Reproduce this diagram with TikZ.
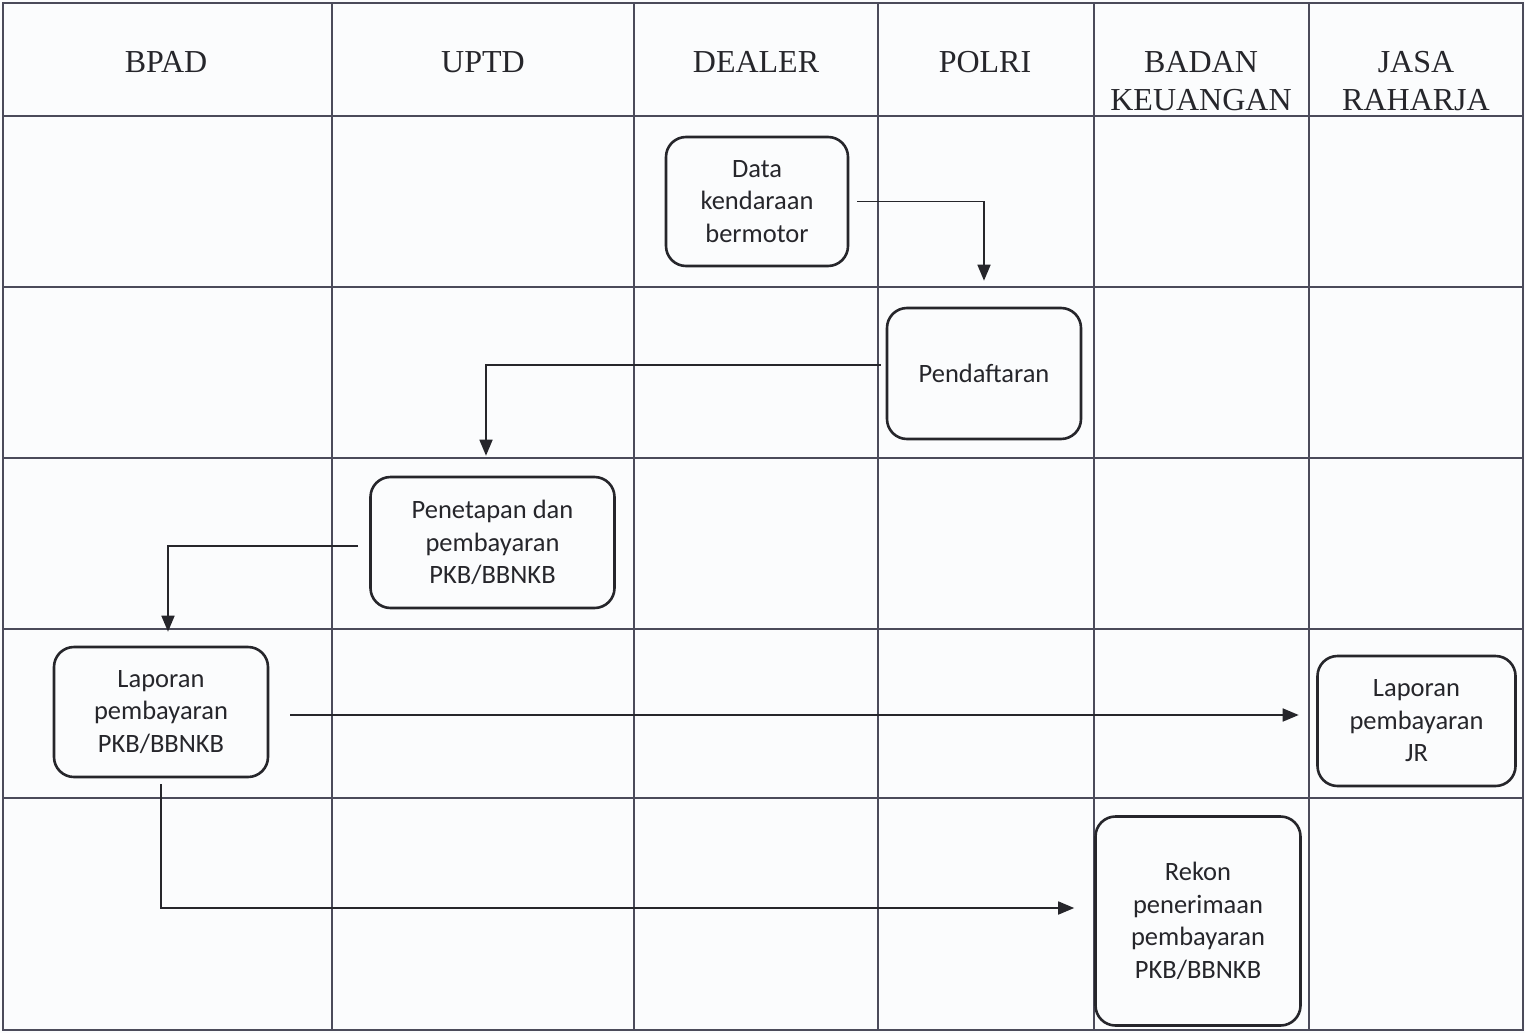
\documentclass[tikz,border=0pt]{standalone}
\usepackage{fontspec}
\setmainfont{Liberation Serif}
\newfontfamily\boxfont{Carlito}
\usetikzlibrary{arrows.meta}
\definecolor{gridc}{HTML}{4B4B5A}
\definecolor{ink}{HTML}{26262B}
\definecolor{paper}{HTML}{FBFCFD}
\begin{document}
\begin{tikzpicture}[x=1pt,y=-1pt,
  lane/.style={draw=gridc, line width=1.3pt},
  hdr/.style={font=\fontsize{32}{37}\selectfont, text=ink, align=center, inner sep=0pt, anchor=base},
  proc/.style={draw=ink, line width=2.6pt, rounded corners=20pt, font=\boxfont\fontsize{26.5}{32.5}\selectfont, text=ink, align=center, inner sep=0pt},
  conn/.style={draw=ink, line width=1.7pt, -{Triangle[length=16pt,width=13pt]}}
]
\useasboundingbox (0,0) rectangle (1525,1033);
\fill[paper] (0,0) rectangle (1525,1033);
\draw[lane] (3,3) rectangle (1523,1030);
\foreach \x in {332,634,878,1094,1309} \draw[lane] (\x,3) -- (\x,1030);
\foreach \y in {116,287,458,629,798} \draw[lane] (3,\y) -- (1523,\y);

\node[hdr] (hbpad) at (166,72) {BPAD};
\node[hdr] (huptd) at (483,72) {UPTD};
\node[hdr] (hdeal) at (756,72) {DEALER};
\node[hdr] (hpol) at (985,72) {POLRI};
\node[hdr] (hbk) at (1201,110) {BADAN\\KEUANGAN};
\node[hdr] (hjr) at (1416,110) {JASA\\RAHARJA};

\node[proc, minimum width=182pt, minimum height=129pt] (data) at (757,201.5) {Data\\kendaraan\\bermotor};
\node[proc, minimum width=194pt, minimum height=131pt] (pend) at (984,373.5) {Pendaftaran};
\node[proc, minimum width=244pt, minimum height=131pt] (pen) at (492.5,542.5) {Penetapan dan\\pembayaran\\PKB/BBNKB};
\node[proc, minimum width=214pt, minimum height=130pt] (lapA) at (161,712) {Laporan\\pembayaran\\PKB/BBNKB};
\node[proc, minimum width=198pt, minimum height=130pt] (jr) at (1416.5,721) {Laporan\\pembayaran\\JR};
\node[proc, minimum width=205pt, minimum height=209pt] (rekon) at (1198,921) {Rekon\\penerimaan\\pembayaran\\PKB/BBNKB};

\draw[conn, shorten <=8pt, shorten >=26pt] (data.east) -| (pend.north);
\draw[conn, shorten <=5pt, shorten >=20pt] ([yshift=8.5pt]pend.west) -| ([xshift=-6.5pt]pen.north);
\draw[conn, shorten <=11pt, shorten >=14pt] ([yshift=-3.5pt]pen.west) -| ([xshift=7pt]lapA.north);
\draw[conn, shorten <=21pt, shorten >=17.5pt] ([yshift=-3pt]lapA.east) -- ([yshift=-3pt]lapA.east -| jr.west);
\draw[conn, shorten <=6pt, shorten >=20pt] (lapA.south) |- ([yshift=13pt]rekon.west);
\end{tikzpicture}
\end{document}
